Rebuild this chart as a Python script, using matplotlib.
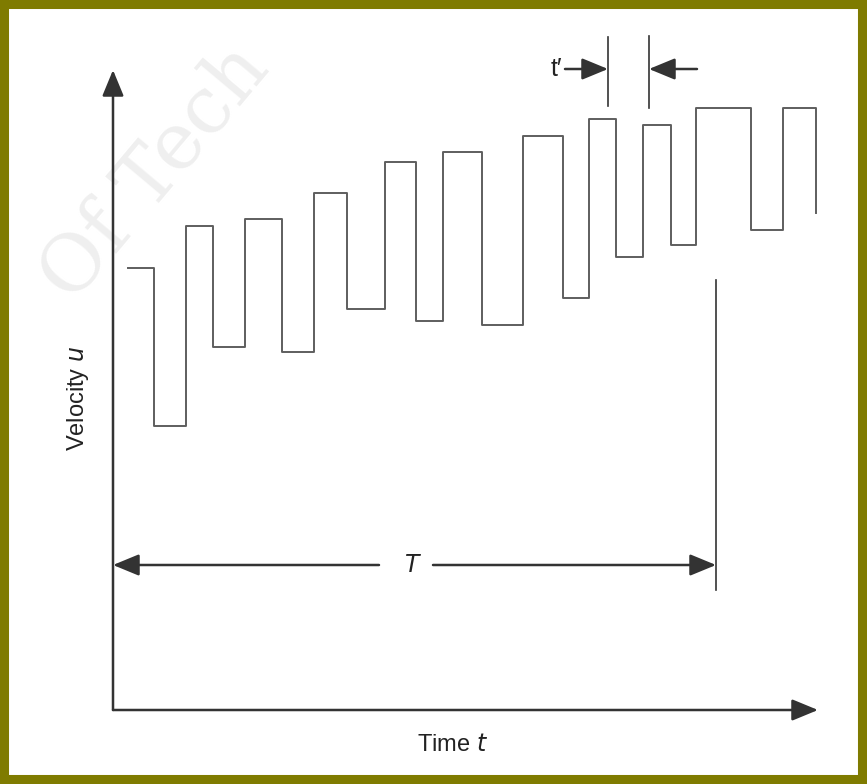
import matplotlib
matplotlib.use("Agg")
import matplotlib.pyplot as plt
from matplotlib.patches import Rectangle

# ==============================
# DATA (time / velocity)
# ==============================

# times where the velocity jumps
edge_t = [15, 41, 73, 100, 132, 169, 201, 234, 272, 303, 330,
          369, 410, 450, 476, 503, 530, 558, 583, 638, 670, 703]

# velocity level held between consecutive jumps
levels_u = [442, 284, 484, 363, 491, 358, 517, 401, 548, 389, 558,
            385, 574, 412, 591, 453, 585, 465, 602, 480, 602]
end_u = 497

T_span = 603          # averaging period T
t_prime = [495, 536]  # short interval t'

# ==============================
# BUILD STEP LINE
# ==============================

xs, ys = [], []
for i, u in enumerate(levels_u):
    xs += [edge_t[i], edge_t[i + 1]]
    ys += [u, u]
xs.append(edge_t[-1])
ys.append(end_u)

# ==============================
# FIGURE
# ==============================

W, H = 867, 784
ox, oy = 113, 710     # pixel position of the origin

fig = plt.figure(figsize=(W / 100, H / 100), dpi=100)
ax = fig.add_axes([0, 0, 1, 1])
ax.set_xlim(-ox, W - ox)
ax.set_ylim(oy - H, oy)
ax.axis("off")

# faint watermark
ax.text(-40, 405, "Of Tech", family="DejaVu Serif", fontsize=57,
        color="#efefef", rotation=50, rotation_mode="anchor",
        ha="left", va="baseline", zorder=0)

ax.plot(xs, ys, color="#5e5e5e", lw=1.4, zorder=3)

ink = "#333333"
big = dict(arrowstyle="-|>,head_length=0.8,head_width=0.33",
           mutation_scale=20, color=ink, lw=1.8, shrinkA=0, shrinkB=0)

# axes
ax.annotate("", xy=(705, 0), xytext=(0, 0), arrowprops=big)
ax.annotate("", xy=(0, 640), xytext=(0, 0), arrowprops=big)

# T dimension
uT = 145
ax.annotate("", xy=(0, uT), xytext=(266, uT), arrowprops=big)
ax.annotate("", xy=(T_span, uT), xytext=(320, uT), arrowprops=big)
ax.plot([T_span, T_span], [120, 430], color=ink, lw=1.2)
ax.text(300, uT, "$T$", fontsize=17, color="#222222",
        ha="center", va="center")

# t' dimension
up = 641
ax.plot([t_prime[0], t_prime[0]], [604, 673], color=ink, lw=1.2)
ax.plot([t_prime[1], t_prime[1]], [602, 674], color=ink, lw=1.2)
ax.annotate("", xy=(t_prime[0], up), xytext=(452, up), arrowprops=big)
ax.annotate("", xy=(t_prime[1], up), xytext=(584, up), arrowprops=big)
ax.text(449, up, "t\u2032", fontsize=18, family="Liberation Sans",
        color="#222222", ha="right", va="center")

# axis labels
ax.text(340, -35, "Time $t$", fontsize=17, family="Liberation Sans",
        color="#222222", ha="center", va="center")
ax.text(-35, 312, "Velocity $u$", fontsize=17, family="Liberation Sans",
        color="#222222", ha="center", va="center", rotation=90)

# olive frame
fig.patches.append(Rectangle((0, 0), 1, 1, transform=fig.transFigure,
                             fill=False, edgecolor="#7f7b00", lw=13))

fig.savefig("out.png", dpi=100, facecolor="white")
